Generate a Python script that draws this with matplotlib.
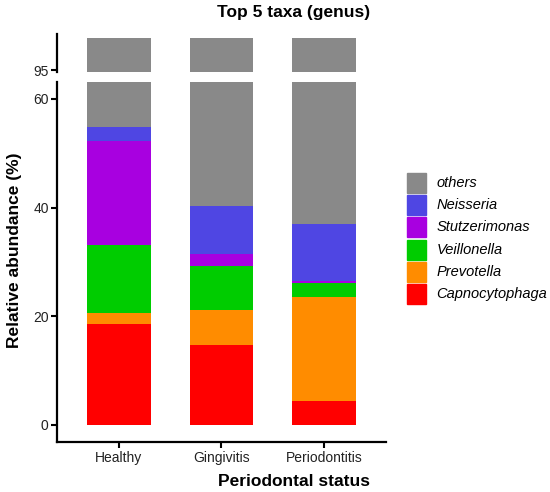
import numpy as np
import matplotlib.pyplot as plt

plt.rcParams['font.family'] = ['Liberation Sans', 'DejaVu Sans']

groups = ['Healthy', 'Gingivitis', 'Periodontitis']
taxa = ['Capnocytophaga', 'Prevotella', 'Veillonella', 'Stutzerimonas', 'Neisseria', 'others']
colors = ['#FF0000', '#FF8C00', '#00CC00', '#A800E0', '#4F46E3', '#898989']

# relative abundance (%) per group, same order as taxa
capnocytophaga = [18.5, 14.7, 4.4]
prevotella = [2.1, 6.5, 19.2]
veillonella = [12.5, 8.0, 2.5]
stutzerimonas = [19.2, 2.3, 0.3]
neisseria = [2.5, 8.8, 10.6]
others = [45.2, 59.7, 63.0]

values = np.array([capnocytophaga, prevotella, veillonella, stutzerimonas, neisseria, others])

fig = plt.figure(figsize=(5.5, 4.92), dpi=100)
ax_lo = fig.add_axes([0.1036, 0.1022, 0.598, 0.732])
ax_hi = fig.add_axes([0.1036, 0.8543, 0.598, 0.076])

x = np.arange(len(groups))
for ax in (ax_lo, ax_hi):
    bottom = np.zeros(len(groups))
    for vals, col in zip(values, colors):
        ax.bar(x, vals, bottom=bottom, width=0.62, color=col, linewidth=0)
        bottom += vals
    ax.set_xlim(-0.6, 2.6)
    for s in ('top', 'right'):
        ax.spines[s].set_visible(False)
    ax.spines['left'].set_linewidth(1.6)
    ax.tick_params(axis='y', length=4, width=1.5, labelsize=10, pad=2, labelcolor='#222222')

ax_lo.set_ylim(-3.1, 63.2)
ax_lo.set_yticks([0, 20, 40, 60])
ax_lo.spines['bottom'].set_linewidth(1.6)
ax_lo.set_xticks(x)
ax_lo.set_xticklabels(groups, fontsize=10, color='#222222')
ax_lo.tick_params(axis='x', length=4, width=1.5, pad=3)

ax_hi.set_ylim(94.8, 100.5)
ax_hi.set_yticks([95])
ax_hi.spines['bottom'].set_visible(False)
ax_hi.set_xticks([])

fig.text(294 / 550, 1 - 13 / 492, 'Top 5 taxa (genus)', fontsize=12.5, fontweight='bold',
         ha='center', va='center')
fig.text(294 / 550, 1 - 481 / 492, 'Periodontal status', fontsize=12.5, fontweight='bold',
         ha='center', va='center')
fig.text(15 / 550, 1 - 250 / 492, 'Relative abundance (%)', fontsize=12.5, fontweight='bold',
         ha='center', va='center', rotation=90)

# legend
y0 = 182.7
for i, (name, col) in enumerate(zip(taxa[::-1], colors[::-1])):
    yc = y0 + i * 22.3
    fig.patches.append(plt.Rectangle((406.5 / 550, 1 - (yc + 10) / 492), 19.5 / 550, 20 / 492,
                                     transform=fig.transFigure, color=col, figure=fig))
    fig.text(436.5 / 550, 1 - yc / 492, name, fontsize=10.5, style='italic', ha='left', va='center')

fig.savefig('out.png', dpi=100)
